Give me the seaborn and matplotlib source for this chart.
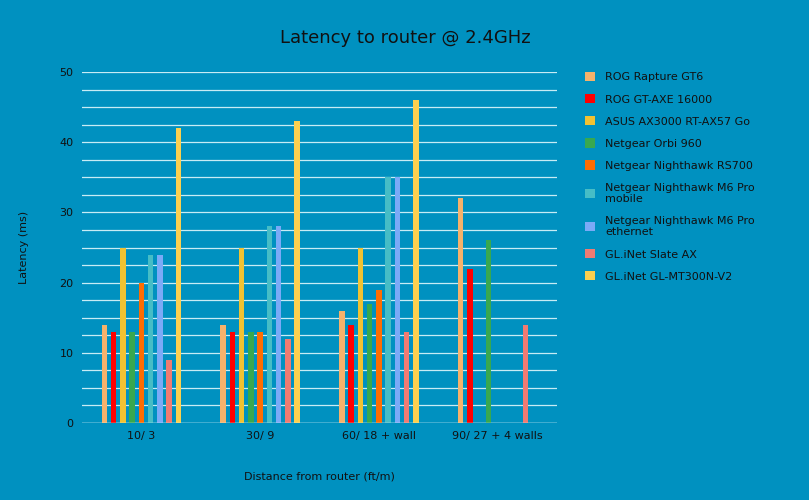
import numpy as np
import pandas as pd
import matplotlib
matplotlib.use("Agg")
import matplotlib.pyplot as plt
import seaborn as sns
from matplotlib.patches import Patch
from matplotlib.ticker import MultipleLocator

categories = ["10/ 3", "30/ 9", "60/ 18 + wall", "90/ 27 + 4 walls"]
series = ["ROG Rapture GT6", "ROG GT-AXE 16000", "ASUS AX3000 RT-AX57 Go",
          "Netgear Orbi 960", "Netgear Nighthawk RS700", "Netgear Nighthawk M6 Pro\nmobile",
          "Netgear Nighthawk M6 Pro\nethernet", "GL.iNet Slate AX", "GL.iNet GL-MT300N-V2"]
rog_gt6 = [14, 14, 16, 32]
rog_axe = [13, 13, 14, 22]
asus_ax57 = [25, 25, 25, np.nan]
orbi960 = [13, 13, 17, 26]
rs700 = [20, 13, 19, np.nan]
m6_mobile = [24, 28, 35, np.nan]
m6_eth = [24, 28, 35, np.nan]
slate_ax = [9, 12, 13, 14]
mt300n = [42, 43, 46, np.nan]
colors = ["#F6B26B", "#FF0000", "#F1C232", "#38A84F", "#FF6D01",
          "#46BDC6", "#7BAAF7", "#F07B72", "#FCD04F"]

vals = [rog_gt6, rog_axe, asus_ax57, orbi960, rs700, m6_mobile, m6_eth, slate_ax, mt300n]
rows = []
for s, v in zip(series, vals):
    for c, y in zip(categories, v):
        rows.append({"cat": c, "series": s, "val": y})
df = pd.DataFrame(rows)

bg = "#0091C0"
fig = plt.figure(figsize=(8.09, 5.0), dpi=100, facecolor=bg)
ax = fig.add_axes([82/809, 1-423/500, (557-82)/809, (423-72)/500], facecolor=bg)
sns.barplot(data=df, x="cat", y="val", hue="series", palette=colors, width=0.7,
            ax=ax, legend=False, saturation=1)
for p in ax.patches:
    w = p.get_width()
    p.set_x(p.get_x() + w*0.2)
    p.set_width(w*0.6)
    p.set_edgecolor("none")

ax.set_ylim(0, 50)
ax.yaxis.set_major_locator(MultipleLocator(10))
ax.yaxis.set_minor_locator(MultipleLocator(2.5))
ax.grid(axis="y", which="both", color="#C8ECF5", linewidth=0.9)
ax.set_axisbelow(True)
for s in ax.spines.values():
    s.set_visible(False)
ax.axhline(0, color="#E8F6FA", linewidth=1)
ax.tick_params(axis="both", which="both", length=0, labelsize=8, colors="#111111", pad=6)
ax.set_xlabel("Distance from router (ft/m)", fontsize=8, color="#111111", labelpad=22)
ax.set_ylabel("Latency (ms)", fontsize=8, color="#111111", labelpad=22)
fig.text(405/809, 1-38/500, "Latency to router @ 2.4GHz", ha="center", va="center",
         fontsize=13, color="#111111")

handles = [Patch(facecolor=c, edgecolor="none") for c in colors]
fig.legend(handles, series, loc="upper left", bbox_to_anchor=(575/809, 1-62/500),
           frameon=False, fontsize=8, handlelength=0.9, handleheight=0.9,
           labelspacing=1.05, handletextpad=0.9, labelcolor="#111111")
fig.savefig("out.png", dpi=100, facecolor=bg)
